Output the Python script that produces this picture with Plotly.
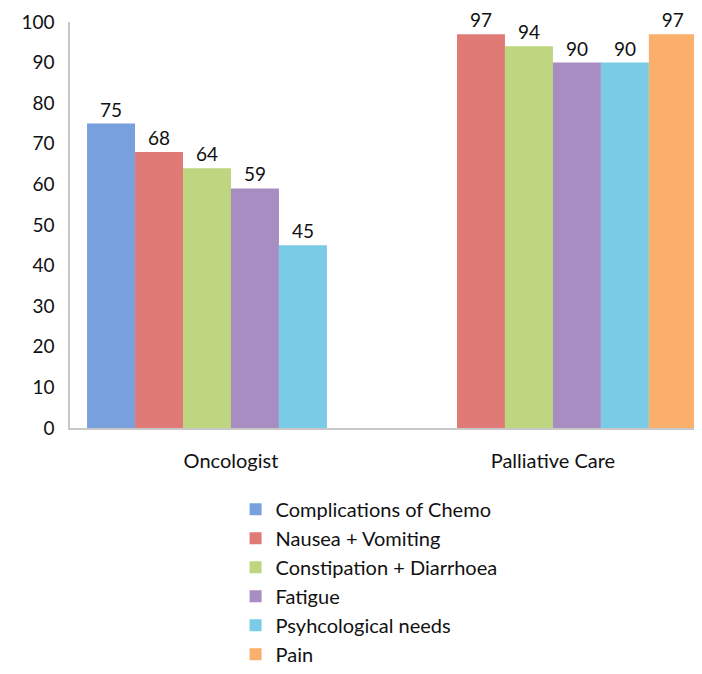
import plotly.graph_objects as go

groups = ["Oncologist", "Palliative Care"]
series = ["Complications of Chemo", "Nausea + Vomiting", "Constipation + Diarrhoea",
          "Fatigue", "Psyhcological needs", "Pain"]
values = {
    "Complications of Chemo": [75, None],
    "Nausea + Vomiting": [68, 97],
    "Constipation + Diarrhoea": [64, 94],
    "Fatigue": [59, 90],
    "Psyhcological needs": [45, 90],
    "Pain": [None, 97],
}
colors = ["#78a0dc", "#e07a76", "#bdd67f", "#a88dc3", "#7acbe5", "#fbaf6c"]
y_ticks = [0, 10, 20, 30, 40, 50, 60, 70, 80, 90, 100]

FONT = "Lato, 'Open Sans', sans-serif"

fig = go.Figure()
for name, col in zip(series, colors):
    vals = values[name]
    fig.add_trace(go.Bar(
        name=name, x=groups, y=vals,
        marker=dict(color=col, line=dict(width=0)),
        text=[("" if v is None else str(v)) for v in vals],
        textposition="outside", cliponaxis=False,
        textfont=dict(size=19, color="#111111", family=FONT),
    ))

fig.update_layout(
    width=694, height=666,
    margin=dict(l=62, r=0, t=14, b=246),
    paper_bgcolor="white", plot_bgcolor="white",
    barmode="group", bargap=0.106, bargroupgap=0,
    font=dict(family=FONT, size=19, color="#111111"),
    showlegend=True,
    legend=dict(x=0.262, y=-0.152, xanchor="left", yanchor="top",
                font=dict(size=20, family=FONT, color="#111111"),
                traceorder="normal", tracegroupgap=0, itemwidth=30),
    xaxis=dict(range=[-0.5, 1.463], showgrid=False, showline=True,
               linecolor="#c8c8c8", linewidth=1.5, ticks="", ticklabelstandoff=14,
               tickfont=dict(size=20), zeroline=False),
    yaxis=dict(range=[0, 100], tickvals=y_ticks, showgrid=False, showline=True,
               linecolor="#c8c8c8", linewidth=1.5, ticks="", ticklabelstandoff=10,
               tickfont=dict(size=19), zeroline=False),
)

fig.write_html("out.html")
